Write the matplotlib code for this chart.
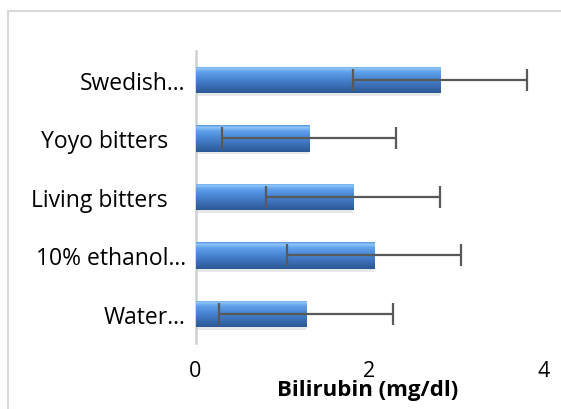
import numpy as np
import matplotlib
matplotlib.use("Agg")
import matplotlib.pyplot as plt
import matplotlib.patches as mpatches
import matplotlib.transforms as mtransforms
from matplotlib.colors import LinearSegmentedColormap

plt.rcParams["font.family"] = ["Open Sans", "DejaVu Sans"]

# data (bottom to top)
categories = ["Water…", "10% ethanol…", "Living bitters", "Yoyo bitters", "Swedish…"]
bilirubin = [1.27, 2.05, 1.81, 1.30, 2.81]
errors = [1.0, 1.0, 1.0, 1.0, 1.0]
xticks = [0, 2, 4]

fig = plt.figure(figsize=(5.61, 4.10), dpi=100)
ax = fig.add_axes([0.3485, 0.1605, 0.6203, 0.7137])

# chart frame (Excel style, cropped on right/bottom)
frame = mpatches.Rectangle((8 / 561, -0.05), 1.2, 1 - 12 / 410 + 0.05,
                           transform=fig.transFigure, fill=False,
                           edgecolor="#d9d9d9", linewidth=1.5, clip_on=False)
fig.patches.append(frame)

y = np.arange(len(categories))
h = 0.45

cmap = LinearSegmentedColormap.from_list(
    "bevel", [(0.0, "#2c5896"), (0.25, "#3a6db3"), (0.55, "#4a88d6"),
              (0.8, "#62a3ec"), (0.92, "#8ec6fb"), (1.0, "#5c9ae0")])
grad = np.linspace(0, 1, 64).reshape(-1, 1)

# soft shadow below bars
ax.barh(y - 0.05, bilirubin, height=h, color="#bfbfbf", alpha=0.35,
        linewidth=0, zorder=1)
bars = ax.barh(y, bilirubin, height=h, color="#4a88d6", linewidth=0, zorder=2)
for b in bars:
    x0, y0 = b.get_x(), b.get_y()
    im = ax.imshow(grad, cmap=cmap, origin="lower", aspect="auto",
                   extent=[x0, x0 + b.get_width(), y0, y0 + b.get_height()],
                   zorder=3)
    im.set_clip_path(b)

ax.errorbar(bilirubin, y, xerr=errors, fmt="none", ecolor="#595959",
            elinewidth=1.6, capsize=8, capthick=1.6, zorder=4)

ax.set_xlim(0, 4)
ax.set_ylim(-0.5, 4.5)
ax.set_xticks(xticks)
ax.set_yticks(y)
ax.set_yticklabels(categories)
ax.tick_params(axis="x", length=0, pad=12, labelsize=15.5)
ax.tick_params(axis="y", length=0, pad=7, labelsize=16.5)

# untruncated labels sit a little further left, as in Excel
shift = mtransforms.ScaledTranslation(-0.18, 0, fig.dpi_scale_trans)
for lbl in ax.get_yticklabels():
    if not lbl.get_text().endswith("…"):
        lbl.set_transform(lbl.get_transform() + shift)

for s in ["top", "right", "bottom"]:
    ax.spines[s].set_visible(False)
ax.spines["left"].set_color("#d0d0d0")
ax.spines["left"].set_linewidth(1.8)

ax.set_xlabel("Bilirubin (mg/dl)", fontsize=16, fontweight="bold")
ax.xaxis.label.set_verticalalignment("center")
ax.xaxis.set_label_coords(0.496, -0.158)

fig.savefig("out.png", dpi=100)
